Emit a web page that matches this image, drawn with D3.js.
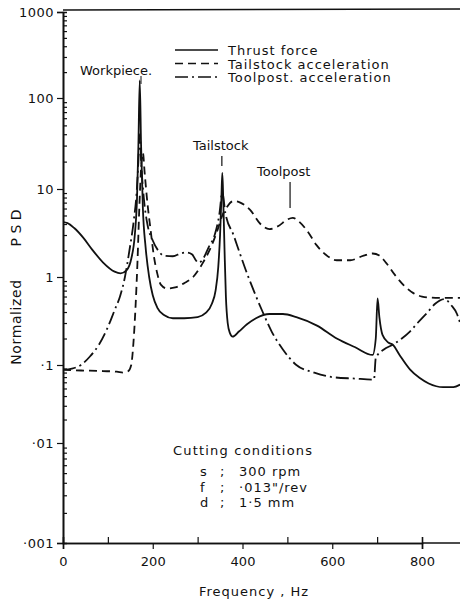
<!DOCTYPE html>
<html>
<head>
<meta charset="utf-8">
<script src="https://cdn.jsdelivr.net/npm/d3@7"></script>
<style>
  body { margin: 0; background: #fff; }
  text { font-family: "DejaVu Sans", sans-serif; fill: #111; }
</style>
</head>
<body>
<div id="chart"></div>
<script>
// values (Hz, normalized PSD)
var thrustHz  = [0, 10, 25, 45, 65, 90, 115, 128, 142, 152, 160, 165, 168, 171, 174, 178, 184, 192, 200, 210, 225, 245, 270, 300, 318, 332, 340, 346, 350, 353, 355, 357, 360, 363, 367, 372, 378, 392, 410, 430, 460, 490, 520, 566, 610, 650, 690, 697, 701, 705, 712, 725, 735, 750, 773, 795, 815, 847, 870, 885];
var thrustPSD = [4.2, 4.1, 3.6, 2.8, 2.05, 1.45, 1.15, 1.1, 1.2, 1.6, 3.0, 8, 30, 160, 30, 6, 2.2, 1.0, 0.62, 0.45, 0.37, 0.34, 0.34, 0.35, 0.39, 0.5, 0.7, 1.3, 3, 8, 15, 8, 2, 0.6, 0.3, 0.23, 0.21, 0.24, 0.29, 0.34, 0.38, 0.38, 0.35, 0.28, 0.2, 0.16, 0.13, 0.2, 0.57, 0.35, 0.22, 0.18, 0.17, 0.13, 0.088, 0.068, 0.058, 0.052, 0.052, 0.056];

var tailHz  = [0, 40, 80, 120, 135, 145, 152, 157, 162, 166, 170, 175, 178, 182, 188, 195, 202, 210, 218, 232, 250, 270, 290, 310, 330, 345, 355, 365, 380, 395, 417, 440, 460, 480, 500, 512, 525, 545, 565, 585, 610, 640, 670, 690, 705, 720, 740, 760, 780, 800, 830, 885];
var tailPSD = [0.087, 0.085, 0.084, 0.082, 0.08, 0.083, 0.1, 0.18, 0.5, 1.5, 6, 20, 25, 15, 7, 3.5, 1.8, 1.1, 0.82, 0.74, 0.76, 0.85, 1.0, 1.4, 2.2, 3.5, 5, 6.2, 7.3, 7.0, 5.8, 4.0, 3.5, 3.8, 4.5, 4.7, 4.3, 3.3, 2.3, 1.8, 1.55, 1.55, 1.75, 1.85, 1.75, 1.45, 1.05, 0.8, 0.66, 0.6, 0.58, 0.58];

var toolHz  = [0, 20, 40, 60, 80, 100, 115, 127, 138, 148, 158, 164, 168, 171, 174, 180, 188, 200, 212, 225, 245, 262, 276, 288, 296, 302, 310, 325, 338, 348, 355, 362, 380, 395, 410, 425, 445, 465, 490, 520, 560, 600, 650, 693, 697, 715, 735, 755, 773, 790, 811, 830, 850, 865, 878, 885];
var toolPSD = [0.087, 0.09, 0.1, 0.125, 0.17, 0.27, 0.42, 0.6, 1.0, 2.0, 4.5, 9, 20, 40, 20, 8, 4, 2.6, 2.0, 1.75, 1.72, 1.85, 1.9, 1.8, 1.55, 1.45, 1.55, 2.2, 3.0, 5, 9, 5.3, 3.0, 1.8, 1.1, 0.7, 0.4, 0.24, 0.15, 0.1, 0.08, 0.07, 0.067, 0.065, 0.12, 0.15, 0.17, 0.2, 0.24, 0.3, 0.39, 0.5, 0.56, 0.48, 0.38, 0.3];

var yMajor = [0.001, 0.01, 0.1, 1, 10, 100, 1000];
var yLabels = ["·001", "·01", "·1", "1", "10", "100", "1000"];
var xMajor = [0, 200, 400, 600, 800];
var xMinor = [100, 300, 500, 700];

var seriesNames = ["Thrust  force", "Tailstock  acceleration", "Toolpost. acceleration"];
var seriesDash  = [null, "8,5", "13,4,2,4"];

var width = 460, height = 601;

var svg = d3.select("#chart").append("svg")
    .attr("width", width)
    .attr("height", height);

var x = d3.scaleLinear().domain([0, 800]).range([63, 422]);
// scan is a bit uneven, so the log scale is pinned at each decade
var y = d3.scaleLog()
    .domain(yMajor)
    .range([543, 443, 365, 277, 189, 98, 12]);

var yMinor = [];
for (var i = 0; i < yMajor.length - 1; i++) {
    for (var k = 2; k < 10; k++) yMinor.push(yMajor[i] * k);
}

// frame
svg.append("line")
    .attr("x1", x(0)).attr("x2", width)
    .attr("y1", y(1000) - 2).attr("y2", y(1000) - 3)
    .attr("stroke", "#111").attr("stroke-width", 1.6);

// axes
var gy = svg.append("g")
    .attr("transform", "translate(" + x(0) + ",0)")
    .call(d3.axisLeft(y).tickValues(yMajor)
        .tickFormat(function(d, i) { return yLabels[i]; })
        .tickSize(6).tickPadding(3));
gy.selectAll("text").attr("font-size", 13).style("letter-spacing", "0.5px");

svg.append("g")
    .attr("transform", "translate(" + x(0) + ",0)")
    .call(d3.axisRight(y).tickValues(yMinor).tickFormat("").tickSize(4));

var gx = svg.append("g")
    .attr("transform", "translate(0," + y(0.001) + ")")
    .call(d3.axisBottom(x).tickValues(xMajor).tickSize(6).tickPadding(8));
gx.selectAll("text").attr("font-size", 13);

svg.append("g")
    .attr("transform", "translate(0," + y(0.001) + ")")
    .call(d3.axisTop(x).tickValues(xMinor).tickFormat("").tickSize(6));

svg.selectAll(".domain").attr("stroke", "#111").attr("stroke-width", 1.6);
svg.selectAll(".tick line").attr("stroke", "#111").attr("stroke-width", 1.2);
svg.selectAll(".tick text").attr("fill", "#111")
    .style("font-family", "DejaVu Sans, sans-serif");

// extend x axis to right edge
svg.append("line")
    .attr("x1", x(800)).attr("x2", width)
    .attr("y1", y(0.001)).attr("y2", y(0.001))
    .attr("stroke", "#111").attr("stroke-width", 1.6);

// curves
var line = d3.line()
    .x(function(d) { return x(d[0]); })
    .y(function(d) { return y(d[1]); })
    .curve(d3.curveMonotoneX);

var series = [
    d3.zip(thrustHz, thrustPSD),
    d3.zip(tailHz, tailPSD),
    d3.zip(toolHz, toolPSD)
];

svg.append("clipPath").attr("id", "plot")
    .append("rect")
    .attr("x", x(0)).attr("y", y(1000))
    .attr("width", width - x(0)).attr("height", y(0.001) - y(1000));

svg.append("g").attr("clip-path", "url(#plot)")
    .selectAll("path")
    .data(series)
    .enter()
    .append("path")
    .attr("d", line)
    .attr("fill", "none")
    .attr("stroke", "#111")
    .attr("stroke-width", 1.8)
    .attr("stroke-dasharray", function(d, i) { return seriesDash[i]; });

// legend
var legend = svg.append("g");
seriesNames.forEach(function(name, i) {
    var ly = 50 + i * 13.5;
    legend.append("line")
        .attr("x1", 175).attr("x2", 218)
        .attr("y1", ly).attr("y2", ly)
        .attr("stroke", "#111").attr("stroke-width", 1.6)
        .attr("stroke-dasharray", seriesDash[i]);
    legend.append("text")
        .attr("x", 228).attr("y", ly + 5)
        .attr("font-size", 13)
        .style("letter-spacing", "1px")
        .text(name);
});

// peak annotations
svg.append("text").attr("x", 80).attr("y", 75).attr("font-size", 13).text("Workpiece.");
svg.append("line").attr("x1", 141).attr("x2", 141).attr("y1", 76).attr("y2", 84)
    .attr("stroke", "#111").attr("stroke-width", 1);

svg.append("text").attr("x", 193).attr("y", 150).attr("font-size", 13).text("Tailstock");
svg.append("line").attr("x1", x(354)).attr("x2", x(354)).attr("y1", 156).attr("y2", 166)
    .attr("stroke", "#111").attr("stroke-width", 1.2);

svg.append("text").attr("x", 257).attr("y", 176).attr("font-size", 13).text("Toolpost");
svg.append("line").attr("x1", x(506)).attr("x2", x(506)).attr("y1", 182).attr("y2", 208)
    .attr("stroke", "#111").attr("stroke-width", 1.2);

// cutting conditions
var cc = svg.append("g").attr("font-size", 13);
cc.append("text").attr("x", 173).attr("y", 455).style("letter-spacing", "1.2px").text("Cutting  conditions");
var condKeys = ["s", "f", "d"];
var condVals = ["300  rpm", "·013\"/rev", "1·5  mm"];
condKeys.forEach(function(k, i) {
    var cy = 476 + i * 15.5;
    cc.append("text").attr("x", 200).attr("y", cy).text(k);
    cc.append("text").attr("x", 220).attr("y", cy).text(";");
    cc.append("text").attr("x", 239).attr("y", cy).style("letter-spacing", "1px").text(condVals[i]);
});

// axis titles
svg.append("text")
    .attr("x", 254).attr("y", 596)
    .attr("text-anchor", "middle")
    .attr("font-size", 13)
    .style("letter-spacing", "1px")
    .text("Frequency ,  Hz");

svg.append("text")
    .attr("transform", "translate(21,322) rotate(-90)")
    .attr("text-anchor", "middle")
    .attr("font-size", 14)
    .style("letter-spacing", "0.6px")
    .text("Normalized");

svg.append("text")
    .attr("transform", "translate(21,228) rotate(-90)")
    .attr("text-anchor", "middle")
    .attr("font-size", 14)
    .text("P S D");
</script>
</body>
</html>
